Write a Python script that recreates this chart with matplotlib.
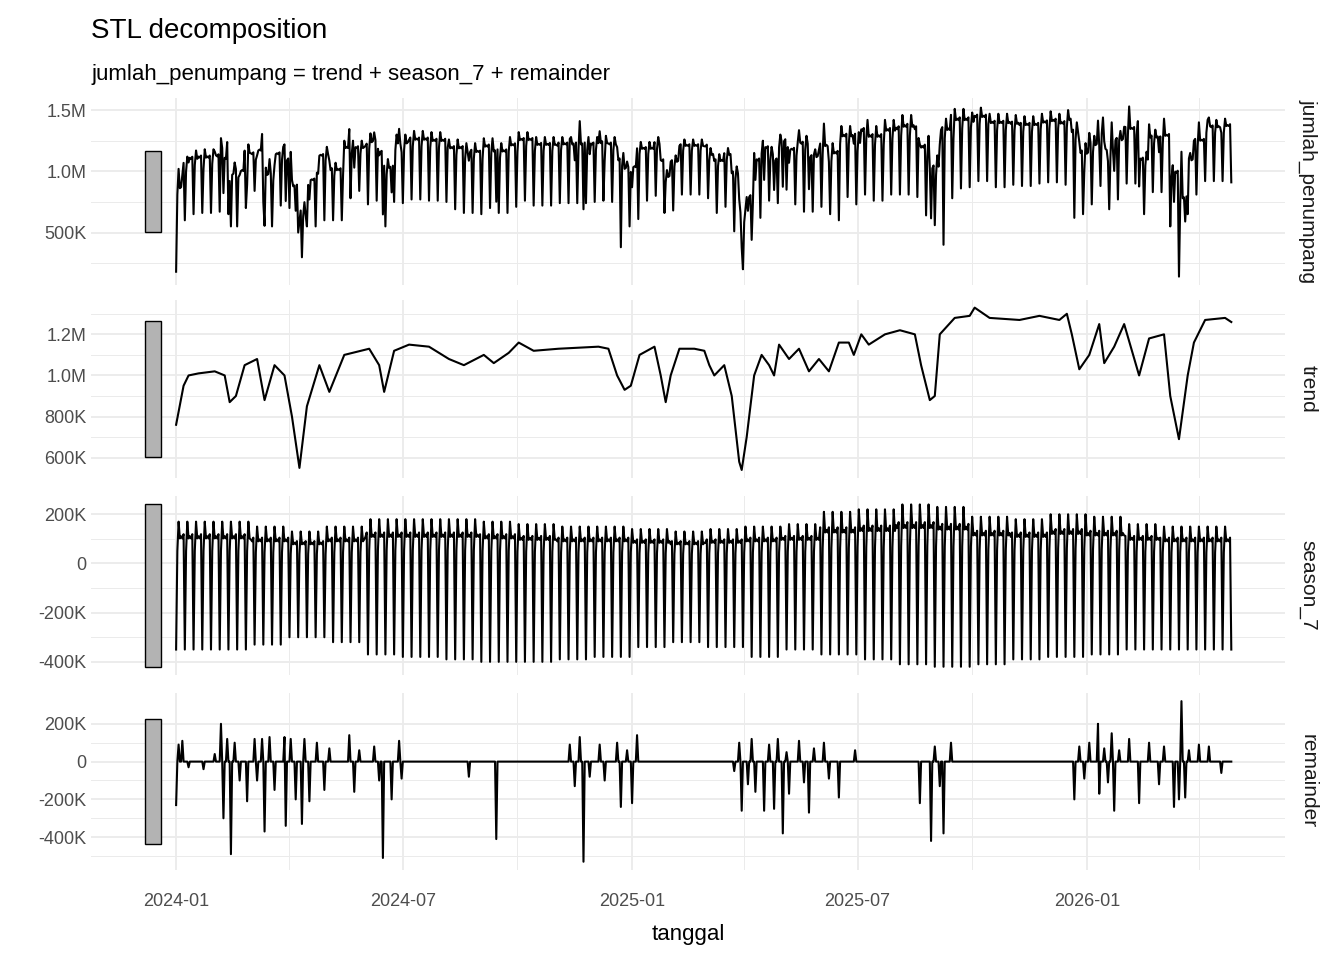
import matplotlib
matplotlib.use("Agg")
import matplotlib.pyplot as plt
import numpy as np
import pandas as pd
from matplotlib.patches import Rectangle
from matplotlib.ticker import FixedLocator, FuncFormatter

plt.rcParams['font.family'] = ['Liberation Sans', 'DejaVu Sans']

start = pd.Timestamp('2024-01-01')
n_days = 848

# trend: (day offset from 2024-01-01, value in thousands)
trend_day = [0, 6, 10, 18, 31, 39, 43, 48, 55, 65, 71, 79, 87, 93, 99, 105, 115, 123, 135, 155,
             163, 167, 175, 187, 203, 219, 231, 247, 255, 267, 275, 287, 307, 339, 347, 354, 360,
             365, 372, 384, 389, 393, 397, 404, 416, 424, 428, 432, 440, 446, 452, 454, 458, 464,
             470, 476, 480, 484, 492, 500, 508, 516, 524, 532, 540, 544, 550, 556, 569, 581, 593,
             598, 605, 609, 613, 625, 637, 641, 653, 677, 693, 709, 715, 719, 725, 733, 741, 745,
             753, 761, 773, 781, 793, 798, 805, 812, 817, 826, 842, 847]
trend_val = [760, 950, 1000, 1010, 1020, 1000, 870, 900, 1050, 1080, 880, 1050, 1000, 800, 550,
             850, 1050, 920, 1100, 1130, 1050, 920, 1120, 1150, 1140, 1080, 1050, 1100, 1060, 1110,
             1160, 1120, 1130, 1140, 1130, 1000, 930, 950, 1100, 1140, 1000, 870, 1000, 1130, 1130,
             1120, 1050, 1000, 1050, 900, 580, 540, 700, 1000, 1100, 1050, 1000, 1150, 1080, 1130,
             1020, 1080, 1020, 1160, 1160, 1100, 1200, 1150, 1200, 1220, 1200, 1050, 880, 900, 1200,
             1280, 1290, 1330, 1280, 1270, 1290, 1270, 1300, 1200, 1030, 1100, 1250, 1060, 1140,
             1250, 1000, 1180, 1200, 900, 690, 1000, 1160, 1270, 1280, 1260]

# weekly seasonal shape (fraction of monthly max / min) and monthly extremes, thousands
week_shape = [-1.0, 0.3, 1.0, 0.6, 0.65, 0.6, 0.7]
season_max = [170, 170, 150, 130, 150, 180, 180, 180, 170, 160, 150, 150, 140, 130,
              140, 150, 160, 210, 220, 240, 230, 190, 180, 200, 190, 160, 150, 150]
season_min = [350, 350, 330, 300, 320, 370, 380, 390, 400, 400, 390, 380, 340, 320,
              340, 380, 350, 370, 390, 410, 420, 410, 390, 380, 370, 350, 350, 350]

# remainder spikes: (day offset, value in thousands), zero elsewhere
rem_day = [0, 2, 5, 10, 22, 31, 36, 38, 41, 44, 47, 51, 57, 63, 65, 69, 71, 75, 79, 87, 88, 92,
           96, 101, 103, 107, 113, 119, 123, 139, 143, 147, 159, 163, 166, 173, 179, 181, 235, 257,
           316, 320, 324, 327, 332, 340, 344, 354, 357, 362, 366, 370, 448, 452, 454, 459, 462,
           465, 472, 476, 480, 483, 487, 490, 492, 500, 504, 508, 512, 520, 524, 532, 545, 597,
           606, 609, 613, 616, 622, 721, 725, 729, 733, 740, 741, 745, 748, 751, 753, 757, 765,
           773, 781, 789, 793, 801, 805, 807, 810, 813, 821, 829, 839]
rem_val = [-230, 90, 110, -30, -40, 40, 200, -300, 120, -490, 100, -100, -210, 120, -100, 120,
           -370, 130, -150, 130, -340, 120, -200, -330, 120, -210, 100, -150, 70, 140, -160, 60,
           80, -100, -510, -200, 110, -90, -80, -410, 90, -130, 130, -530, -80, 90, -100, 100,
           -240, 60, -220, 140, -50, 100, -260, -120, 120, -160, -260, 90, -250, 120, -380, 50,
           -170, 110, -110, -270, 70, 100, -90, -190, 60, -220, -420, 80, -130, -380, 100, -200,
           80, -90, 100, 200, -170, 70, -110, 150, -260, 60, 120, -220, 100, -120, 80, -240, -200,
           320, -190, 60, 90, 80, -60]

# ---- assemble daily series ----
days = np.arange(n_days)
dates = start + pd.to_timedelta(days, unit='D')
t_day = np.array(trend_day)
t_val = np.array(trend_val) * 1e3
trend_dates = start + pd.to_timedelta(t_day, unit='D')

idx = np.searchsorted(t_day, days, side='right') - 1
trend_daily = t_val[np.clip(idx, 0, len(t_val) - 1)]

month_idx = np.array([(d.year - 2024) * 12 + d.month - 1 for d in dates])
shape = np.array(week_shape)[days % 7]
smax = np.array(season_max)[month_idx] * 1e3
smin = np.array(season_min)[month_idx] * 1e3
season = np.where(shape > 0, shape * smax, shape * smin)

remainder = np.zeros(n_days)
remainder[np.array(rem_day)] = np.array(rem_val) * 1e3

original = trend_daily + season + remainder

panels = [
    ('jumlah_penumpang', dates, original, [5e5, 1e6, 1.5e6], [2.5e5, 7.5e5, 1.25e6]),
    ('trend', trend_dates, t_val, [6e5, 8e5, 1e6, 1.2e6], [7e5, 9e5, 1.1e6, 1.3e6]),
    ('season_7', dates, season, [-4e5, -2e5, 0, 2e5], [-3e5, -1e5, 1e5]),
    ('remainder', dates, remainder, [-4e5, -2e5, 0, 2e5], [-5e5, -3e5, -1e5, 1e5]),
]


def fmt(v, pos=None):
    if v == 0:
        return '0'
    if abs(v) >= 1e6:
        return f'{v / 1e6:.1f}M'
    return f'{v / 1e3:.0f}K'


fig = plt.figure(figsize=(13.44, 9.6), dpi=100)
fig.text(0.068, 0.968, 'STL decomposition', fontsize=20, va='center')
fig.text(0.068, 0.922, 'jumlah_penumpang = trend + season_7 + remainder', fontsize=16, va='center')

boxes = [(0.703, 0.195), (0.502, 0.186), (0.297, 0.186), (0.094, 0.184)]
x0 = start - pd.Timedelta(days=68)
x1 = start + pd.Timedelta(days=890)
major = [pd.Timestamp(s) for s in ['2024-01-01', '2024-07-01', '2025-01-01', '2025-07-01', '2026-01-01']]
minor = [pd.Timestamp(s) for s in ['2023-10-01', '2024-04-01', '2024-10-01', '2025-04-01',
                                   '2025-10-01', '2026-04-01']]
ranges = [np.ptp(p[2]) for p in panels]
bar_h = min(ranges)
grid = '#EBEBEB'

for i, (name, x, y, maj, mnr) in enumerate(panels):
    b, h = boxes[i]
    ax = fig.add_axes([0.068, b, 0.888, h])
    ax.plot(x, y, color='black', lw=1.5)
    ax.set_xlim(x0, x1)
    lo, hi = y.min(), y.max()
    pad = (hi - lo) * 0.05
    ax.set_ylim(lo - pad, hi + pad)
    mid = (lo + hi) / 2
    ax.add_patch(Rectangle((matplotlib.dates.date2num(start - pd.Timedelta(days=25)), mid - bar_h / 2),
                           13, bar_h, facecolor='#B3B3B3', edgecolor='black', lw=1, zorder=3))
    ax.xaxis.set_major_locator(FixedLocator(matplotlib.dates.date2num(major)))
    ax.xaxis.set_minor_locator(FixedLocator(matplotlib.dates.date2num(minor)))
    ax.yaxis.set_major_locator(FixedLocator(maj))
    ax.yaxis.set_minor_locator(FixedLocator(mnr))
    ax.yaxis.set_major_formatter(FuncFormatter(fmt))
    ax.grid(which='major', color=grid, lw=1.3)
    ax.grid(which='minor', color=grid, lw=0.7)
    ax.set_axisbelow(True)
    for s in ax.spines.values():
        s.set_visible(False)
    ax.tick_params(which='both', length=0, labelsize=13, labelcolor='#4D4D4D')
    ax.tick_params(axis='x', pad=17)
    if i < 3:
        ax.tick_params(axis='x', labelbottom=False)
    else:
        ax.set_xticklabels([d.strftime('%Y-%m') for d in major])
        ax.set_xlabel('tanggal', fontsize=16, labelpad=10)
    sax = fig.add_axes([0.958, b, 0.03, h])
    sax.axis('off')
    sax.text(0.5, 0.5, name, rotation=-90, ha='center', va='center', fontsize=15,
             color='#1A1A1A', clip_on=True, transform=sax.transAxes)

fig.savefig('out.png', dpi=100)
